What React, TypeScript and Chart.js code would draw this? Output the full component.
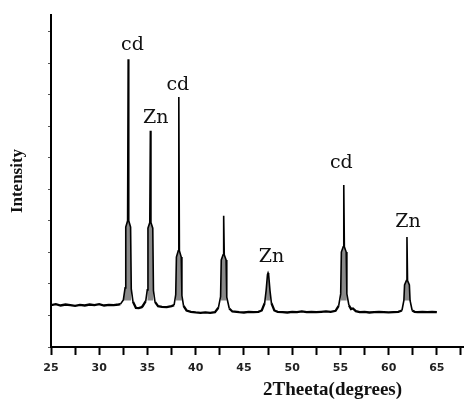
import React, { useEffect, useRef } from "react";
import { Chart, registerables } from "chart.js";

Chart.register(...registerables);

// 2-theta positions (degrees) of the traced pattern
const twoTheta = [
  25.0, 25.5, 26.0, 26.5, 27.0, 27.5, 28.0, 28.5, 29.0, 29.5, 30.0, 30.5, 31.0, 31.5, 32.0,
  32.2, 32.5, 32.68, 32.75, 32.94, 33.0, 33.06, 33.25, 33.32, 33.5,
  33.8, 34.1, 34.4,
  34.5, 34.82, 34.98, 35.05, 35.24, 35.3, 35.36, 35.55, 35.62, 35.78,
  36.1, 36.5, 37.0, 37.5,
  37.76, 37.93, 38.0, 38.19, 38.25, 38.31, 38.5, 38.57, 38.74,
  39.05, 39.5, 40.0, 40.5, 41.0, 41.5, 42.0,
  42.35, 42.58, 42.65, 42.84, 42.9, 42.96, 43.15, 43.22, 43.48,
  43.8, 44.5, 45.0, 45.5, 46.0, 46.5,
  46.85, 47.15, 47.3, 47.44, 47.5, 47.56, 47.7, 47.85, 48.15,
  48.5, 49.0, 49.5, 50.0, 50.5, 51.0, 51.5, 52.0, 52.5, 53.0, 53.5, 54.0,
  54.5, 54.82, 55.03, 55.1, 55.29, 55.35, 55.41, 55.6, 55.67, 55.88,
  56.1, 56.3, 56.6, 57.0, 57.5, 58.0, 58.5, 59.0, 59.5, 60.0, 60.5, 61.0,
  61.38, 61.58, 61.65, 61.84, 61.9, 61.96, 62.15, 62.22, 62.44,
  62.7, 63.0, 63.5, 64.0, 64.5, 65.0,
];

// intensity (arbitrary units) at each 2-theta position
const intensity = [
  12.6, 12.9, 12.5, 12.8, 12.6, 12.4, 12.7, 12.5, 12.8, 12.6, 12.9, 12.5, 12.7, 12.6, 12.8,
  12.9, 14.2, 17.8, 36.1, 38.0, 86.7, 38.0, 36.1, 17.5, 13.6,
  11.8, 11.7, 12.0,
  12.3, 13.8, 17.2, 35.8, 37.5, 65.1, 37.5, 35.8, 17.0, 13.6,
  12.3, 12.1, 12.0, 12.3,
  12.6, 15.8, 27.1, 29.0, 75.3, 29.0, 27.1, 15.5, 12.4,
  11.0, 10.6, 10.4, 10.3, 10.4, 10.3, 10.5,
  11.8, 15.2, 26.2, 27.8, 39.5, 27.8, 26.2, 15.0, 11.6,
  10.7, 10.5, 10.4, 10.6, 10.5, 10.6,
  11.0, 13.2, 17.0, 21.8, 22.3, 21.8, 17.0, 13.2, 11.0,
  10.6, 10.5, 10.4, 10.6, 10.5, 10.7, 10.5, 10.6, 10.5, 10.6, 10.7, 10.6,
  10.9, 12.4, 16.0, 28.6, 30.2, 48.8, 30.2, 28.6, 16.0, 12.6,
  11.4, 11.6, 10.8, 10.5, 10.6, 10.4, 10.5, 10.6, 10.5, 10.4, 10.5, 10.6,
  11.0, 14.0, 18.7, 20.0, 33.1, 20.0, 18.7, 14.0, 11.0,
  10.6, 10.5, 10.6, 10.5, 10.6, 10.5,
];

const xTickValues = [25, 27.5, 30, 32.5, 35, 37.5, 40, 42.5, 45, 47.5, 50, 52.5, 55, 57.5, 60, 62.5, 65, 67.5];

// peak annotations
const peakLabels = ["cd", "Zn", "cd", "Zn", "cd", "Zn"];
const peakLabelX = [33.45, 35.85, 38.15, 47.85, 55.1, 62.0];
const peakLabelY = [91.0, 69.0, 79.0, 27.0, 55.5, 37.5];

const xTitle = "2Theeta(degrees)";
const yTitle = "Intensity";

export default function App() {
  const ref = useRef<HTMLCanvasElement>(null);

  useEffect(() => {
    if (!ref.current) return;

    const annotate = {
      id: "peakAnnotations",
      afterDraw(chart: any) {
        const { ctx, chartArea } = chart;
        const xs = chart.scales.x;
        const ys = chart.scales.y;
        ctx.save();
        ctx.fillStyle = "#111";
        ctx.textAlign = "center";
        ctx.textBaseline = "middle";
        ctx.font = '19px "DejaVu Serif"';
        peakLabels.forEach((t, i) => {
          ctx.fillText(t, xs.getPixelForValue(peakLabelX[i]), ys.getPixelForValue(peakLabelY[i]));
        });
        ctx.font = 'bold 19px "Liberation Serif"';
        ctx.fillText(xTitle, chartArea.left + chartArea.width * 0.682, chartArea.bottom + 43);
        ctx.restore();
      },
    };

    const chart = new Chart(ref.current, {
      type: "line",
      data: {
        datasets: [
          {
            data: twoTheta.map((x, i) => ({ x, y: intensity[i] })),
            borderColor: "#000",
            borderWidth: 1.6,
            pointRadius: 0,
            tension: 0,
            fill: false,
            segment: {
              borderWidth: (c: any) => (c.p0.parsed.y < 14 && c.p1.parsed.y < 14 ? 2.3 : 1.6),
            },
          },
          {
            // gray body of each reflection (same trace, only where it rises above the background)
            data: twoTheta.map((x, i) => ({ x, y: intensity[i] >= 14 ? intensity[i] : null })),
            borderWidth: 0,
            borderColor: "rgba(0,0,0,0)",
            backgroundColor: "#8a8a8a",
            pointRadius: 0,
            tension: 0,
            spanGaps: false,
            fill: { target: { value: 14 } },
          },
        ],
      },
      options: {
        animation: false,
        responsive: false,
        maintainAspectRatio: false,
        layout: { padding: { top: 15, right: 2, left: 0, bottom: 0 } },
        plugins: { legend: { display: false }, tooltip: { enabled: false } },
        scales: {
          x: {
            type: "linear",
            min: 25,
            max: 67.8,
            afterBuildTicks: (s: any) => {
              s.ticks = xTickValues.map((v) => ({ value: v }));
            },
            afterFit: (s: any) => {
              s.height = 52;
            },
            grid: {
              display: true,
              drawOnChartArea: false,
              drawTicks: true,
              tickLength: 8,
              tickColor: "#000",
              tickWidth: 2,
            },
            border: { display: true, color: "#000", width: 2 },
            ticks: {
              autoSkip: false,
              maxRotation: 0,
              padding: 7,
              color: "#222",
              font: { family: '"DejaVu Sans"', weight: "bold", size: 11 },
              callback: (v: any) => (Number(v) % 5 === 0 ? String(v) : ""),
            },
          },
          y: {
            min: 0,
            max: 100,
            afterFit: (s: any) => {
              s.width = 51;
            },
            ticks: { display: false, stepSize: 9.5, includeBounds: false },
            grid: {
              display: true,
              drawOnChartArea: false,
              drawTicks: true,
              tickLength: 3,
              tickColor: "#555",
              tickWidth: 1,
            },
            border: { display: true, color: "#000", width: 2 },
            title: {
              display: true,
              text: yTitle,
              color: "#111",
              font: { family: '"Liberation Serif"', weight: "bold", size: 17 },
              padding: { top: 7, bottom: 0 },
            },
          },
        },
      },
      plugins: [annotate],
    });

    return () => chart.destroy();
  }, []);

  return (
    <div style={{ position: "absolute", left: 0, top: 0, width: 468, height: 399 }}>
      <canvas ref={ref} width={468} height={399} />
    </div>
  );
}
